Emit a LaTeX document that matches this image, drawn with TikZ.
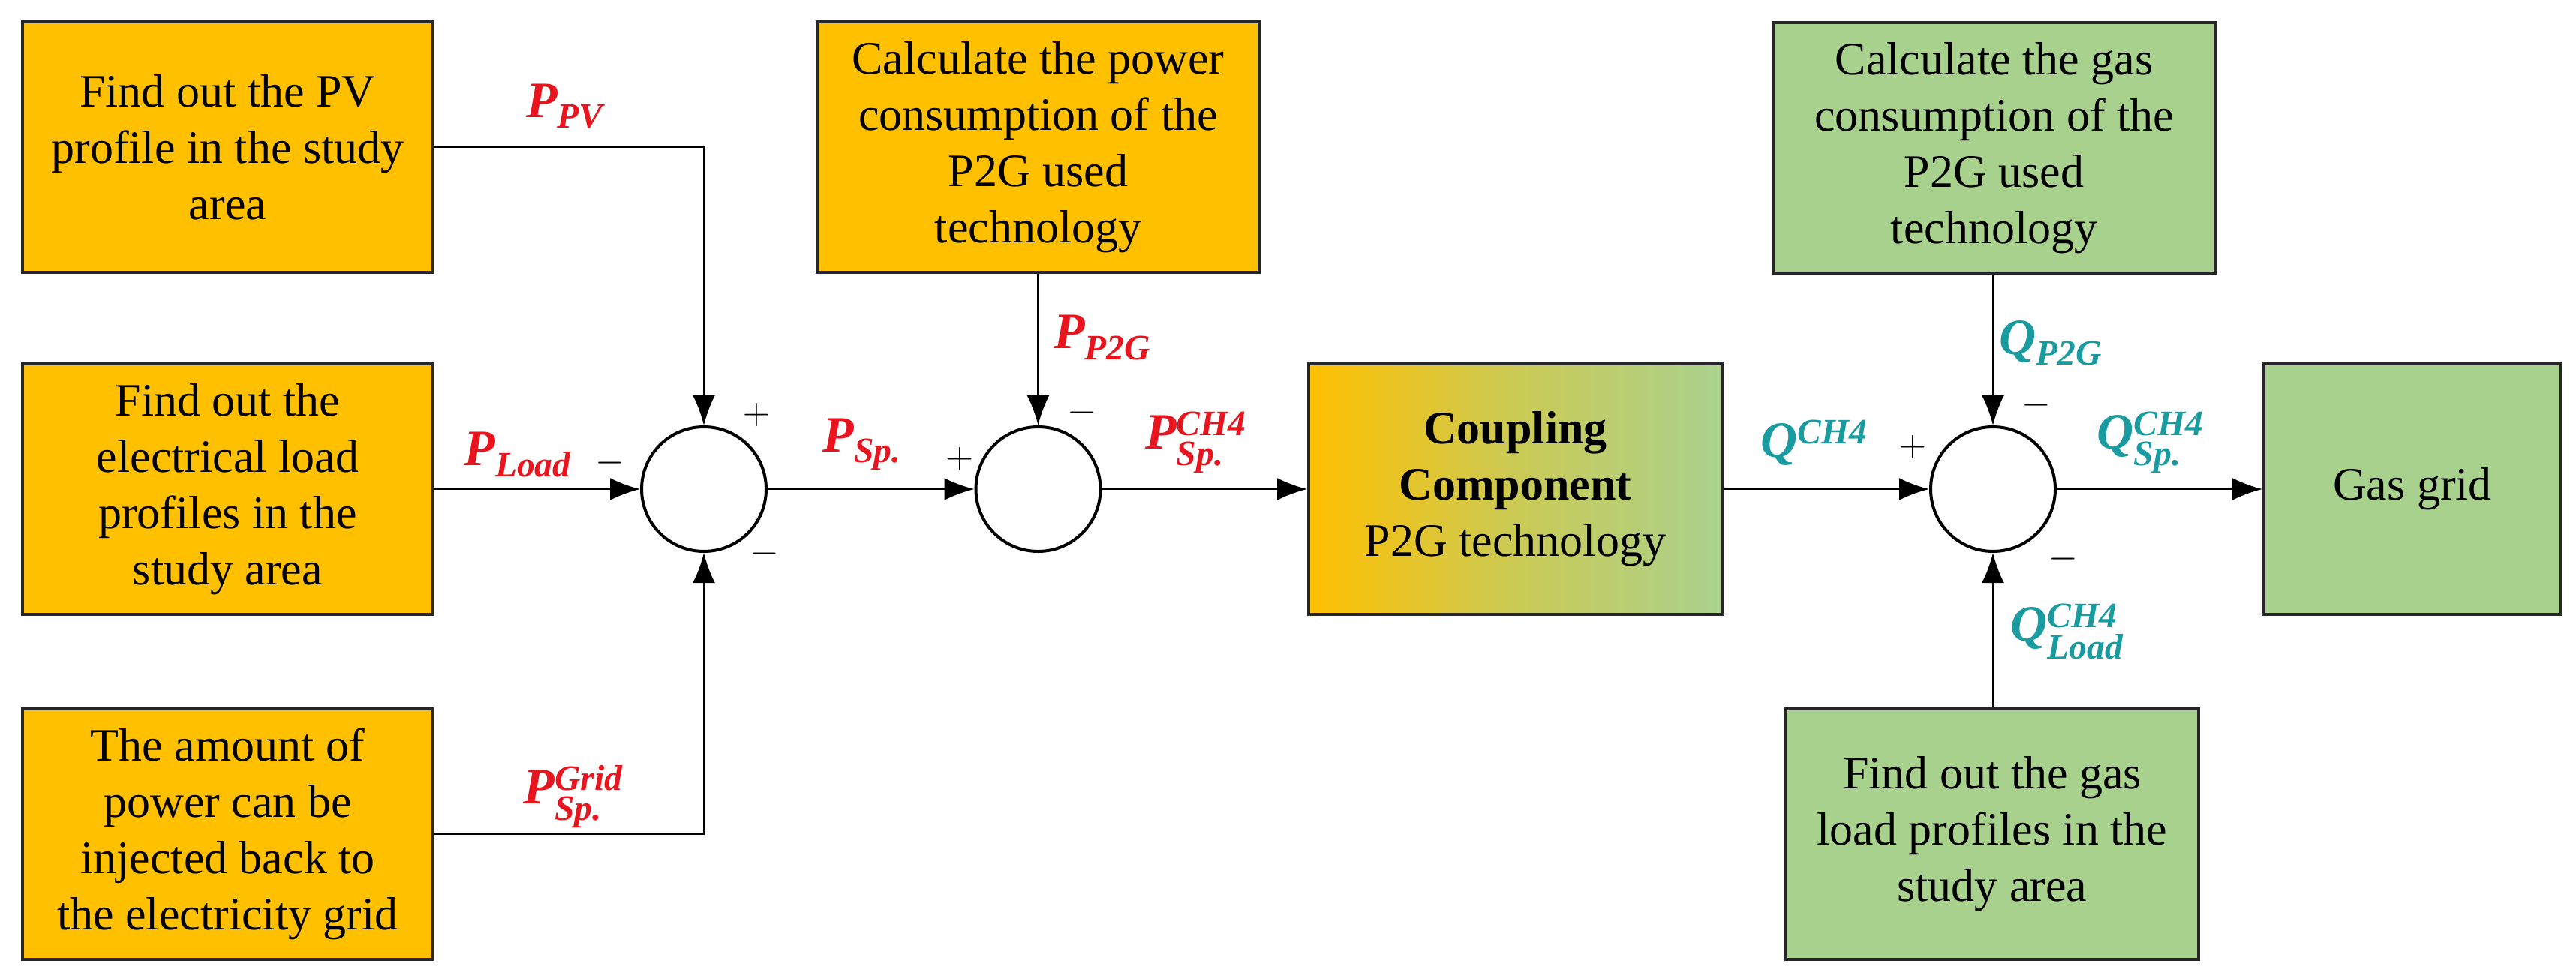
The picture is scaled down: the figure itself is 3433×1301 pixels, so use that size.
\documentclass[tikz,border=0pt]{standalone}
\usepackage{amsmath}
\usepackage{fontspec}
\setmainfont{Liberation Serif}
\usetikzlibrary{arrows.meta}
\definecolor{orng}{HTML}{FFC000}
\definecolor{grn}{HTML}{A9D18E}
\definecolor{lred}{HTML}{E8141E}
\definecolor{teal2}{HTML}{1A9BA0}
\begin{document}
\begin{tikzpicture}[x=0.5pt,y=-0.5pt,
  box/.style={draw=black!85,line width=2pt,align=center,inner sep=4pt,
    font=\fontsize{31}{37.5}\selectfont},
  ob/.style={box,fill=orng},
  gb/.style={box,fill=grn},
  sum/.style={circle,draw,line width=2pt,minimum size=83pt,inner sep=0pt},
  conn/.style={line width=1.3pt,-{Latex[length=20pt,width=15pt]}},
  rl/.style={text=lred,font=\fontsize{34}{40}\selectfont\bfseries\itshape,inner sep=1pt},
  tl/.style={text=teal2,font=\fontsize{34}{40}\selectfont\bfseries\itshape,inner sep=1pt},
  sg/.style={font=\fontsize{44}{48}\selectfont,inner sep=0pt}]
\useasboundingbox (0,0) rectangle (3433,1301);
\node[ob,minimum width=273.5pt,minimum height=167pt] (pv) at (303.5,196) {Find out the PV\\profile in the study\\area};
\node[ob,minimum width=273.5pt,minimum height=167pt] (load) at (303.5,652) {Find out the\\electrical load\\profiles in the\\study area};
\node[ob,minimum width=273.5pt,minimum height=167pt] (grid) at (303.5,1111.5) {The amount of\\power can be\\injected back to\\the electricity grid};
\node[ob,minimum width=294.5pt,minimum height=167pt] (calc) at (1383.5,196) {Calculate the power\\consumption of the\\P2G used\\technology};
\node[box,left color=orng,right color=grn,middle color=grn!60!orng,minimum width=275.5pt,minimum height=167pt] (coup) at (2019.5,652) {\textbf{Coupling}\\\textbf{Component}\\P2G technology};
\node[gb,minimum width=294.5pt,minimum height=167pt] (gcalc) at (2657.5,197) {Calculate the gas\\consumption of the\\P2G used\\technology};
\node[gb,minimum width=198pt,minimum height=167pt] (ggrid) at (3215,652) {Gas grid};
\node[gb,minimum width=275pt,minimum height=167pt] (gload) at (2655,1111.5) {Find out the gas\\load profiles in the\\study area};
\node[sum] (s1) at (938,652) {};
\node[sum] (s2) at (1383.5,652) {};
\node[sum] (s3) at (2656,652) {};
\draw[conn] (pv.east) -| (s1.north);
\draw[conn] (load) -- (s1);
\draw[conn] (grid.east) -| (s1.south);
\draw[conn] (s1) -- (s2);
\draw[conn] (calc) -- (s2);
\draw[conn] (s2) -- (coup);
\draw[conn] (coup) -- (s3);
\draw[conn] (gcalc.south -| s3) -- (s3);
\draw[conn] (s3) -- (ggrid);
\draw[conn] (gload.north -| s3) -- (s3);
\node[rl] (lpv) at (753,142) {P$_{\text{PV}}$};
\node[rl] (lload) at (690,606) {P$_{\text{Load}}$};
\node[rl] (lgrid) at (764,1062) {P$^{\text{Grid}}_{\text{Sp.}}$};
\node[rl] (lsp) at (1149,592) {P$_{\text{Sp.}}$};
\node[rl] (lp2g) at (1469,450) {P$_{\text{P2G}}$};
\node[rl] (lspch) at (1594,590) {P$^{\text{CH4}}_{\text{Sp.}}$};
\node[tl] (qch) at (2418,590) {Q$^{\text{CH4}}$};
\node[tl] (qp2g) at (2733,457) {Q$_{\text{P2G}}$};
\node[tl] (qspch) at (2866,590) {Q$^{\text{CH4}}_{\text{Sp.}}$};
\node[tl] (qload) at (2755,842) {Q$^{\text{CH4}}_{\text{Load}}$};
\node[sg] (m1) at (813,617) {$-$};
\node[sg] (p1) at (1008,553) {$+$};
\node[sg] (m2) at (1019,738) {$-$};
\node[sg] (p2) at (1279,612) {$+$};
\node[sg] (m3) at (1442,550) {$-$};
\node[sg] (p3) at (2549,596) {$+$};
\node[sg] (m4) at (2714,540) {$-$};
\node[sg] (m5) at (2750,745) {$-$};
\end{tikzpicture}
\end{document}
